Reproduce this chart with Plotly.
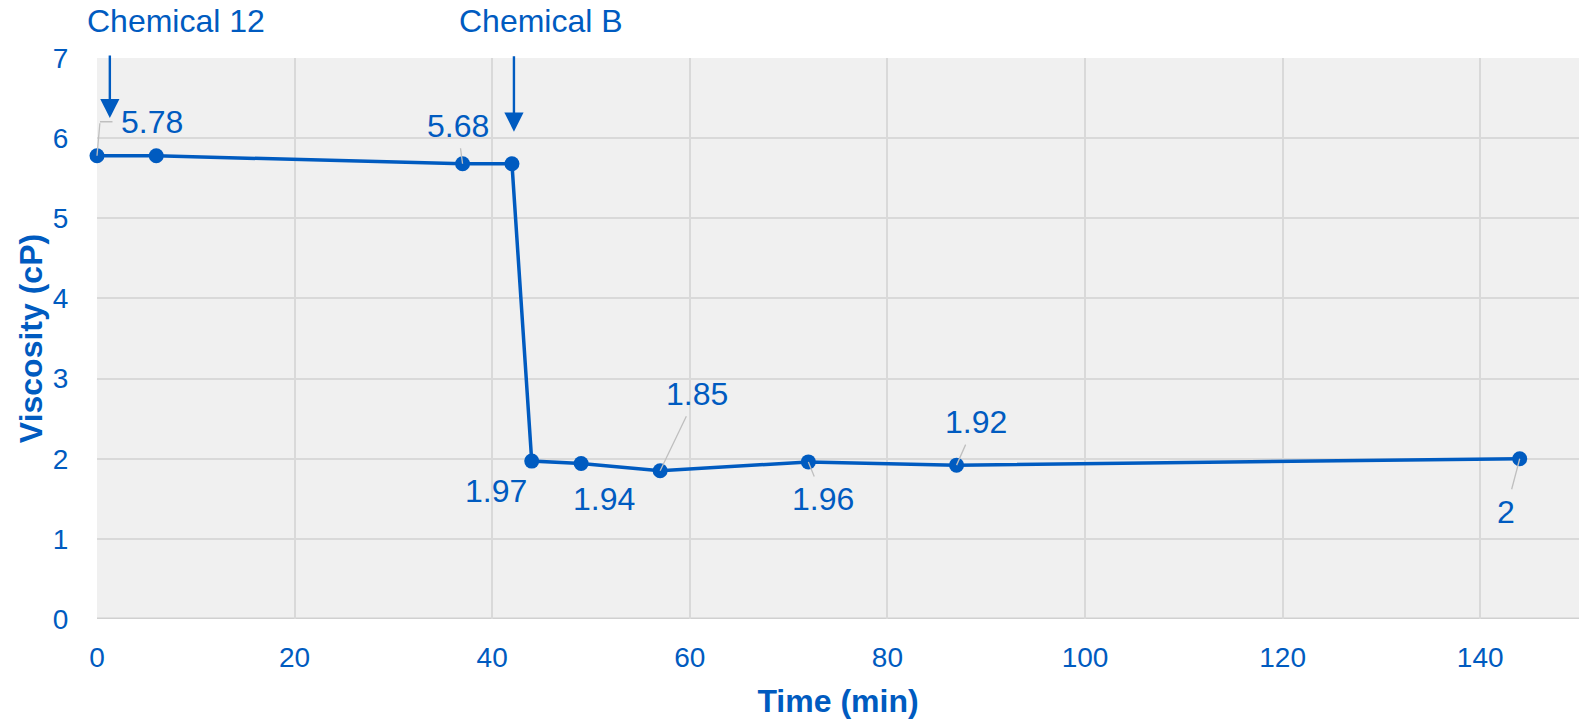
import plotly.graph_objects as go

# Data
time_min = [0, 6, 37, 42, 44, 49, 57, 72, 87, 144]
viscosity = [5.78, 5.78, 5.68, 5.68, 1.97, 1.94, 1.85, 1.96, 1.92, 2.00]
labels = ["5.78", "", "5.68", "", "1.97", "1.94", "1.85", "1.96", "1.92", "2"]
# label offsets in pixels (dx, dy) from the point, and whether a leader line is drawn
label_dx = [55, 0, -5, 0, -36, 23, 37, 15, 19, -14]
label_dy = [-34, 0, -38, 0, 30, 35, -77, 37, -43, 53]
leader = [False, False, True, False, False, False, True, True, True, True]

events = ["Chemical 12", "Chemical B"]
event_x = [1.3, 42.2]
event_y = [6.25, 6.08]
event_ay = [-64, -77]
event_text_dx = [66, 27]

BLUE = "#005BC0"
GRAY = "#BFBFBF"
FONT = "Liberation Sans, Arial, sans-serif"

fig = go.Figure()
fig.add_trace(go.Scatter(
    x=time_min, y=viscosity, mode="lines+markers",
    line=dict(color=BLUE, width=3.5),
    marker=dict(color=BLUE, size=15),
    cliponaxis=False,
    showlegend=False, hoverinfo="x+y",
))

ann = []
for x, y, t, dx, dy, ld in zip(time_min, viscosity, labels, label_dx, label_dy, leader):
    if not t:
        continue
    if ld:
        ann.append(dict(x=x, y=y, xref="x", yref="y", text=t, showarrow=True,
                        ax=dx, ay=dy, arrowhead=0, arrowwidth=1.3, arrowcolor=GRAY,
                        standoff=0, borderpad=4,
                        font=dict(size=32, color=BLUE, family=FONT)))
    else:
        ann.append(dict(x=x, y=y, xref="x", yref="y", text=t, showarrow=False,
                        xshift=dx, yshift=-dy,
                        font=dict(size=32, color=BLUE, family=FONT)))

# elbow leader for first label
ann.append(dict(x=time_min[0], y=viscosity[0], xref="x", yref="y", text="", showarrow=True,
                ax=3, ay=-34, arrowhead=0, arrowwidth=1.3, arrowcolor=GRAY, standoff=0))
ann.append(dict(x=time_min[0], y=viscosity[0], xref="x", yref="y", text="", showarrow=True,
                xshift=3, yshift=34, ax=14, ay=0, arrowhead=0, arrowwidth=1.3,
                arrowcolor=GRAY, standoff=0))

# event arrows
for name, ex, ey, eay, tdx in zip(events, event_x, event_y, event_ay, event_text_dx):
    ann.append(dict(x=ex, y=ey, xref="x", yref="y", text="", showarrow=True,
                    ax=0, ay=eay, arrowhead=2, arrowsize=1.6, arrowwidth=2.4,
                    arrowcolor=BLUE, standoff=0))
    ann.append(dict(x=ex, y=1, xref="x", yref="paper", text=name, showarrow=False,
                    xshift=tdx, yshift=37, yanchor="middle",
                    font=dict(size=32, color=BLUE, family=FONT)))

fig.update_layout(
    width=1579, height=720,
    margin=dict(l=97, r=0, t=58, b=101),
    paper_bgcolor="white", plot_bgcolor="#F0F0F0",
    font=dict(family=FONT, color=BLUE, size=28),
    annotations=ann,
    xaxis=dict(range=[0, 150], tickvals=[0, 20, 40, 60, 80, 100, 120, 140],
               showgrid=True, gridcolor="#D9D9D9", gridwidth=2,
               zeroline=False, showline=False,
               ticks="outside", ticklen=13, tickcolor="rgba(0,0,0,0)",
               tickfont=dict(size=28, color=BLUE),
               title=dict(text="<b>Time (min)</b>", font=dict(size=32, color=BLUE), standoff=18)),
    yaxis=dict(range=[0, 7], tickvals=list(range(0, 8)),
               showgrid=True, gridcolor="#D9D9D9", gridwidth=2,
               zeroline=False, showline=False,
               ticks="outside", ticklen=22, tickcolor="rgba(0,0,0,0)",
               tickfont=dict(size=28, color=BLUE),
               title=dict(text="<b>Viscosity (cP)</b>", font=dict(size=32, color=BLUE), standoff=0)),
)
fig.add_shape(type="line", xref="paper", yref="y", x0=0, x1=1, y0=0, y1=0,
              line=dict(color="#D0D0D0", width=3), layer="below")

fig.write_html("out.html")
